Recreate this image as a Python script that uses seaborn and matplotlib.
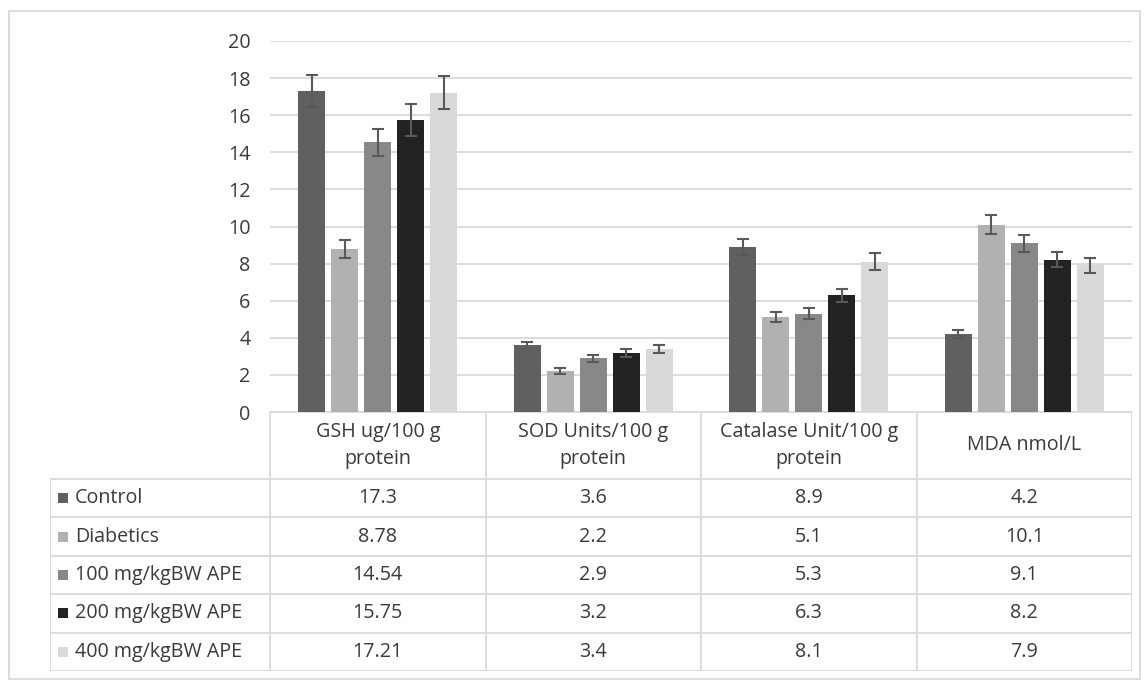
import seaborn as sns
import matplotlib.pyplot as plt
import matplotlib.patches as mpatches
import pandas as pd

# Antioxidant markers per treatment group

metrics = ['GSH ug/100 g\nprotein', 'SOD Units/100 g\nprotein',
           'Catalase Unit/100 g\nprotein', 'MDA nmol/L']
groups = ['Control', 'Diabetics', '100 mg/kgBW APE', '200 mg/kgBW APE', '400 mg/kgBW APE']

#            GSH    SOD  CAT  MDA
control   = [17.3,  3.6, 8.9, 4.2]
diabetics = [8.78,  2.2, 5.1, 10.1]
ape100    = [14.54, 2.9, 5.3, 9.1]
ape200    = [15.75, 3.2, 6.3, 8.2]
ape400    = [17.21, 3.4, 8.1, 7.9]

# error bars
err_control   = [0.85, 0.20, 0.43, 0.20]
err_diabetics = [0.47, 0.16, 0.27, 0.52]
err_ape100    = [0.72, 0.19, 0.30, 0.46]
err_ape200    = [0.85, 0.21, 0.35, 0.41]
err_ape400    = [0.88, 0.21, 0.45, 0.39]

colors = ['#606060', '#b1b1b1', '#888888', '#222222', '#d9d9d9']
txt = '#3a3a3a'
line = '#d9d9d9'

values = [control, diabetics, ape100, ape200, ape400]
errors = [err_control, err_diabetics, err_ape100, err_ape200, err_ape400]

df = pd.DataFrame({
    'metric': metrics * len(groups),
    'group': [g for g in groups for _ in metrics],
    'value': [v for vals in values for v in vals],
})

sns.set_style('white')
plt.rcParams['font.family'] = ['Open Sans', 'DejaVu Sans']
fs = 14.2

W, H = 1148, 680
fig = plt.figure(figsize=(W / 100, H / 100), dpi=100)

# outer frame
fig.add_artist(mpatches.Rectangle((9 / W, 1 / H), 1131 / W, 668 / H, transform=fig.transFigure,
                                  fill=False, edgecolor=line, linewidth=1.3))

# bar axes: x 270..1132 px, y 41..412 px
ax = fig.add_axes([270 / W, (H - 412) / H, (1132 - 270) / W, (412 - 41) / H])
sns.barplot(data=df, x='metric', y='value', hue='group', order=metrics, hue_order=groups,
            palette=colors, width=0.766, gap=0.18, legend=False, linewidth=0, ax=ax)

for cont, errs in zip(ax.containers, errors):
    for bar, e in zip(cont, errs):
        ax.errorbar(bar.get_x() + bar.get_width() / 2, bar.get_height(), yerr=e,
                    fmt='none', ecolor='#595959', elinewidth=1.5, capsize=4.3, capthick=1.5)

ax.set_xlim(-0.5, 3.5)
ax.set_ylim(0, 20)
ax.set_yticks(range(0, 21, 2))
ax.yaxis.grid(True, color=line, linewidth=1.3)
ax.set_axisbelow(True)
ax.set_xticks([])
ax.set_xlabel('')
ax.set_ylabel('')
sns.despine(ax=ax, left=True, bottom=True)
ax.tick_params(axis='y', length=0, pad=14, labelsize=fs, labelcolor=txt)

# data table below the plot
px_per_unit = (1132 - 270) / 4
xl = -0.5 - (270 - 50) / px_per_unit
tab = fig.add_axes([50 / W, (H - 671) / H, (1132 - 50) / W, (671 - 412) / H])
tab.set_xlim(xl, 3.5)
tab.set_ylim(671, 412)
tab.axis('off')

row_h = (671 - 479) / 5
edges = [479 + i * row_h for i in range(6)]
kw = dict(color=line, linewidth=1.3, solid_capstyle='butt')
tab.plot([-0.5, 3.5], [412, 412], **kw)
for y in edges:
    tab.plot([xl, 3.5], [y, y], **kw)
for x in [-0.5, 0.5, 1.5, 2.5, 3.5]:
    tab.plot([x, x], [412, 671], **kw)
tab.plot([xl, xl], [479, 671], **kw)

for i, m in enumerate(metrics):
    tab.text(i, (412 + 479) / 2, m, ha='center', va='center', fontsize=fs,
             color=txt, linespacing=1.5)

for r, (g, c, vals) in enumerate(zip(groups, colors, values)):
    yc = (edges[r] + edges[r + 1]) / 2
    x0 = xl + 8 / px_per_unit
    tab.add_patch(mpatches.Rectangle((x0, yc - 5), 10 / px_per_unit, 10,
                                     facecolor=c, edgecolor='none'))
    tab.text(xl + 25 / px_per_unit, yc, g, ha='left', va='center', fontsize=fs, color=txt)
    for i, v in enumerate(vals):
        tab.text(i, yc, f'{v:g}', ha='center', va='center', fontsize=fs, color=txt)

fig.savefig('out.png', dpi=100)
